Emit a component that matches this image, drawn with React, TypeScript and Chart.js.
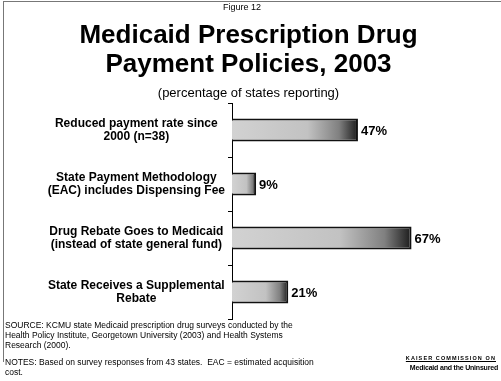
import React, { useEffect, useRef } from "react";
import { Chart, registerables } from "chart.js";

Chart.register(...registerables);

const categories: string[][] = [
  ["Reduced payment rate since", "2000 (n=38)"],
  ["State Payment Methodology", "(EAC) includes Dispensing Fee"],
  ["Drug Rebate Goes to Medicaid", "(instead of state general fund)"],
  ["State Receives a Supplemental", "Rebate"],
];
const values: number[] = [47, 9, 67, 21];
const axisMax = 100;

const valueLabelPlugin = {
  id: "valueLabels",
  afterDatasetsDraw(chart: any) {
    const { ctx } = chart;
    const meta = chart.getDatasetMeta(0);
    ctx.save();
    ctx.font = "bold 13px Arial, 'Liberation Sans', sans-serif";
    ctx.fillStyle = "#000";
    ctx.textAlign = "left";
    ctx.textBaseline = "middle";
    meta.data.forEach((el: any, i: number) => {
      ctx.fillText(values[i] + "%", el.x + 3, el.y + 1);
    });
    ctx.restore();
  },
};

export default function App() {
  const ref = useRef<HTMLCanvasElement | null>(null);

  useEffect(() => {
    if (!ref.current) return;
    const chart = new Chart(ref.current, {
      type: "bar",
      data: {
        labels: categories,
        datasets: [
          {
            data: values,
            backgroundColor: (c: any) => {
              const ch = c.chart;
              const xs = ch.scales && ch.scales.x;
              if (!xs || c.type !== "data") return "#c4c4c4";
              const x0 = xs.getPixelForValue(0);
              const x1 = xs.getPixelForValue(c.raw);
              if (!isFinite(x0) || !isFinite(x1) || x1 - x0 < 1) return "#c4c4c4";
              const g = ch.ctx.createLinearGradient(x0, 0, x1, 0);
              g.addColorStop(0, "#d2d2d2");
              g.addColorStop(0.6, "#c2c2c2");
              g.addColorStop(0.85, "#808080");
              g.addColorStop(1, "#1a1a1a");
              return g;
            },
            borderColor: "#111111",
            borderWidth: 2,
            borderSkipped: "start",
            barPercentage: 0.43,
            categoryPercentage: 1,
          },
        ],
      },
      options: {
        indexAxis: "y",
        animation: false,
        responsive: false,
        maintainAspectRatio: false,
        layout: { padding: { top: 103, bottom: 62, left: 0, right: 1 } },
        plugins: {
          legend: { display: false },
          tooltip: { enabled: false },
          title: { display: false },
        },
        scales: {
          x: {
            display: false,
            min: 0,
            max: axisMax,
          },
          y: {
            afterFit: (s: any) => {
              s.width = 232;
            },
            border: { display: true, color: "#000", width: 1 },
            grid: {
              display: true,
              drawOnChartArea: false,
              drawTicks: true,
              tickLength: 4,
              color: "#000",
            },
            ticks: {
              crossAlign: "center",
              padding: 3,
              color: "#000",
              font: { family: "Arial, 'Liberation Sans', sans-serif", size: 12, weight: "bold", lineHeight: 1.1 },
            },
          },
        },
      } as any,
      plugins: [valueLabelPlugin],
    });
    return () => chart.destroy();
  }, []);

  const abs = (s: React.CSSProperties): React.CSSProperties => ({
    position: "absolute",
    margin: 0,
    fontFamily: "Arial, 'Liberation Sans', sans-serif",
    color: "#000",
    whiteSpace: "nowrap",
    ...s,
  });

  return (
    <div
      style={{
        position: "fixed",
        left: 0,
        top: 0,
        width: 501,
        height: 381,
        background: "#fff",
        overflow: "hidden",
      }}
    >
      <div
        style={{
          position: "absolute",
          left: 3,
          top: 1,
          width: 498,
          height: 360,
          borderLeft: "1px solid #777",
          borderTop: "1px solid #777",
        }}
      />
      <canvas
        ref={ref}
        width={501}
        height={381}
        style={{ position: "absolute", left: 0, top: 0, width: 501, height: 381 }}
      />
      <div style={abs({ left: 0, width: 484, top: 2, textAlign: "center", fontSize: 9, lineHeight: "11px" })}>
        Figure 12
      </div>
      <div
        style={abs({
          left: 0,
          width: 497,
          top: 20,
          textAlign: "center",
          fontSize: 26,
          fontWeight: "bold",
          lineHeight: "29px",
        })}
      >
        Medicaid Prescription Drug
        <br />
        Payment Policies, 2003
      </div>
      <div style={abs({ left: 0, width: 497, top: 85, textAlign: "center", fontSize: 13, lineHeight: "15px" })}>
        (percentage of states reporting)
      </div>
      <div style={abs({ left: 5, top: 320, fontSize: 8.5, lineHeight: "10px" })}>
        SOURCE: KCMU state Medicaid prescription drug surveys conducted by the
        <br />
        Health Policy Institute, Georgetown University (2003) and Health Systems
        <br />
        Research (2000).
      </div>
      <div style={abs({ left: 5, top: 357, fontSize: 8.5, lineHeight: "10px" })}>
        NOTES: Based on survey responses from 43 states.&nbsp; EAC = estimated acquisition
        <br />
        cost.
      </div>
      <div
        style={abs({
          right: 5,
          top: 354,
          textAlign: "right",
          fontSize: 5.5,
          fontWeight: "bold",
          letterSpacing: "1.1px",
          textDecoration: "underline",
          lineHeight: "8px",
        })}
      >
        KAISER COMMISSION ON
      </div>
      <div
        style={abs({
          right: 3,
          top: 363,
          textAlign: "right",
          fontSize: 7,
          fontWeight: "bold",
          lineHeight: "10px",
          letterSpacing: "-0.2px",
        })}
      >
        Medicaid and the Uninsured
      </div>
    </div>
  );
}
